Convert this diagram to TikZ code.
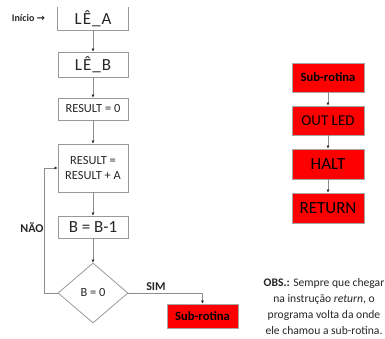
\documentclass[tikz,border=0pt]{standalone}
\usepackage{fontspec}
\setmainfont{Carlito}
\newfontfamily\dejavu{DejaVu Sans}
\usetikzlibrary{arrows.meta,shapes.geometric}
\tikzset{
  box/.style={draw=black!40, line width=0.8pt, minimum width=70pt, inner sep=0pt, text=black!85},
  redbox/.style={draw=black!35, line width=0.8pt, fill=red, minimum width=72pt, inner sep=0pt, text=black},
  conn/.style={draw=black!45, line width=0.8pt, -{Latex[length=3pt,width=3pt,color=black!85]}},
  lbl/.style={font=\bfseries\fontsize{12}{14}\selectfont, text=black!85, inner sep=0pt}
}
\begin{document}
\begin{tikzpicture}[x=1pt,y=-1pt]
\useasboundingbox (0,0) rectangle (385,338);
% left column
\node[box, draw=none, minimum height=23pt, font=\fontsize{17}{20}\selectfont] (la) at (93,18.5) {L\kern1ptÊ\kern1pt\_\kern1ptA};
\draw[black!40, line width=0.8pt] (la.north west) -- (la.south west) -- (la.south east) -- (la.north east);
\node[box, minimum height=25pt, font=\fontsize{17}{20}\selectfont] (lb) at (93,64.5) {L\kern1ptÊ\kern1pt\_\kern1ptB};
\node[box, minimum height=22pt, font=\fontsize{12.4}{15}\selectfont] (r0) at (93,109) {RESULT = 0};
\node[box, minimum height=48pt, align=center, font=\fontsize{12.4}{15.5}\selectfont] (ra) at (93,168) {RESULT =\\RESULT + A};
\node[box, minimum height=22pt, font=\fontsize{17}{20}\selectfont] (bb) at (93,227) {B = B-1};
\node[box, diamond, minimum width=70pt, minimum height=60pt, font=\fontsize{12.4}{15}\selectfont] (dia) at (93,293) {B = 0};
\node[redbox, minimum width=71pt, minimum height=24pt, font=\bfseries\fontsize{12.6}{15}\selectfont] (sb) at (202.5,316) {Sub-rotina};
% right column
\node[redbox, minimum height=29pt, font=\bfseries\fontsize{12.6}{15}\selectfont] (s1) at (328,77.5) {Sub-rotina};
\node[redbox, minimum height=29pt, font=\fontsize{15}{18}\selectfont] (o1) at (328,120.5) {OUT LED};
\node[redbox, minimum height=30pt, font=\fontsize{17}{20}\selectfont] (h1) at (328,164) {HALT};
\node[redbox, minimum height=30pt, font=\fontsize{17}{20}\selectfont] (rt) at (328,208) {RETURN};
% connectors
\draw[conn] (la) -- (lb);
\draw[conn] (lb) -- (r0);
\draw[conn] (r0) -- (ra);
\draw[conn] (ra) -- (bb);
\draw[conn] (bb) -- (dia);
\draw[conn] (dia.west) -- ++(-13,0) |- (ra.west);
\draw[conn] (dia.east) -| (sb.north);
\draw[conn] (s1) -- (o1);
\draw[conn] (o1) -- (h1);
\draw[conn] (h1) -- (rt);
% labels
\node[lbl, font=\bfseries\fontsize{10}{12}\selectfont] (ini) at (28.5,18) {Início {\dejavu\fontsize{10}{12}\selectfont→}};
\node[lbl] (nao) at (32,228) {NÃO};
\node[lbl] (sim) at (156,287) {SIM};
\node[align=center, inner sep=0pt, text=black!85, font=\fontsize{11.6}{16}\selectfont] (obs) at (324,307) {\textbf{OBS.:} Sempre que chegar\\na instrução \textit{return}, o\\programa volta da onde\\ele chamou a sub-rotina.};
\end{tikzpicture}
\end{document}
